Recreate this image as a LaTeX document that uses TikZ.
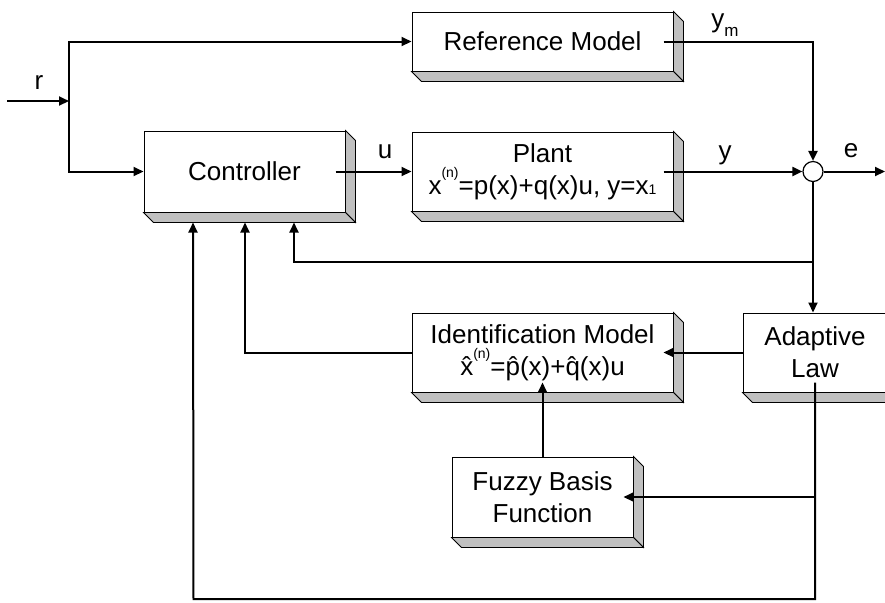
\documentclass[tikz,border=0pt]{standalone}
\usepackage{fontspec}
\setmainfont{Liberation Sans}
\usepackage{tikz}
\usetikzlibrary{arrows.meta,calc}
\definecolor{bevelGray}{HTML}{C0C0C0}
\newcommand{\supn}{\raisebox{8.5pt}{\fontsize{7}{8}\selectfont(n)}}
\newcommand{\smallsub}[1]{{\fontsize{7}{8}\selectfont #1}}
\tikzset{
  >={Triangle[length=5pt,width=4.5pt]},
  every node/.style={font=\fontsize{13}{16}\selectfont},
  block/.style={draw=black, line width=0.5pt, fill=white, inner sep=2pt, align=center},
  bevel/.style={draw=black, line width=0.4pt, fill=bevelGray},
  flow/.style={->, line width=1pt, draw=black},
  wire/.style={line width=1pt, draw=black},
  sumjoint/.style={circle, draw=black, fill=white, line width=0.6pt, minimum size=10pt, inner sep=0pt},
  siglabel/.style={anchor=base, inner sep=0pt},
}

\begin{document}
\begin{tikzpicture}[x=0.5pt,y=-0.5pt]
  \useasboundingbox (0,0) rectangle (885,602);

  % Blocks
  \node[block, minimum width=130.5pt, minimum height=29.5pt] (refm) at (542.5,41.5) {Reference Model};
  \node[block, minimum width=100.5pt, minimum height=40.5pt] (ctrl) at (244.5,171.5) {Controller};
  \node[block, minimum width=130.5pt, minimum height=39.5pt] (plant) at (542.5,171.5)
    {Plant\\x\supn=p(x)+q(x)u, y=x\smallsub{1}};
  \node[block, minimum width=130.5pt, minimum height=39.5pt] (idm) at (542.5,352.5)
    {Identification Model\\\^{x}\supn=\^{p}(x)+\^{q}(x)u};
  \node[block, minimum width=72pt, minimum height=39.5pt] (adapt) at (815,352.5) {Adaptive\\Law};
  \node[block, minimum width=90.5pt, minimum height=40pt] (fbf) at (542.5,497) {Fuzzy Basis\\Function};
  \node[sumjoint] (sum) at (813,171.5) {};

  % bevelled right and bottom faces
  \foreach \b in {refm,ctrl,plant,idm,adapt,fbf}{
    \filldraw[bevel] (\b.north east) -- ++(10,10) -- ($(\b.south east)+(10,10)$) -- (\b.south east) -- cycle;
    \filldraw[bevel] (\b.south west) -- ++(10,10) -- ($(\b.south east)+(10,10)$) -- (\b.south east) -- cycle;
  }

  % Junctions and free ends
  \coordinate (rin) at (7,101);
  \coordinate (rj) at (69,101);
  \coordinate (eout) at (885,171.5);
  \coordinate (fbk) at (813,262);
  \coordinate (cin1) at ($(ctrl.south)+(-51.5,10)$);
  \coordinate (cin2) at ($(ctrl.south)+(0.5,10)$);
  \coordinate (cin3) at ($(ctrl.south)+(49.5,10)$);
  \coordinate (bot) at (193.5,599);

  % reference input
  \draw[flow] (rin) -- (rj);
  \draw[flow] (rj) |- (refm.west);
  \draw[flow] (rj) |- (ctrl.west);

  % forward path
  \draw[flow, shorten <=-5pt] (ctrl.east) -- (plant.west);
  \draw[flow, shorten <=-5pt] (plant.east) -- (sum.west);
  \draw[flow, shorten <=-5pt] (refm.east) -| (sum.north);
  \draw[flow] (sum.east) -- (eout);

  % error feedback
  \draw[flow] (sum.south) -- (sum |- adapt.north);
  \draw[flow] (fbk) -| (cin3);
  \draw[flow, shorten >=-5pt] (adapt.west) -- (idm.east);
  \draw[flow] (idm.west) -| (cin2);
  \draw[flow, shorten >=-5pt] (fbf.north) -- (idm.south);
  \draw[flow, shorten >=-5pt] (adapt.south |- fbf.east) -- (fbf.east);
  \draw[flow, shorten <=-5pt] (adapt.south) |- (bot) -- (cin1);

  % signal labels
  \node[siglabel] (lblr) at (39,89) {r};
  \node[siglabel] (lblu) at (385,158) {u};
  \node[siglabel] (lbly) at (725,159) {y};
  \node[siglabel] (lble) at (851,157) {e};
  \node[siglabel, anchor=base west] (lblym) at (711,27) {y\raisebox{-4.5pt}{\fontsize{8.5}{9}\selectfont m}};
\end{tikzpicture}
\end{document}
